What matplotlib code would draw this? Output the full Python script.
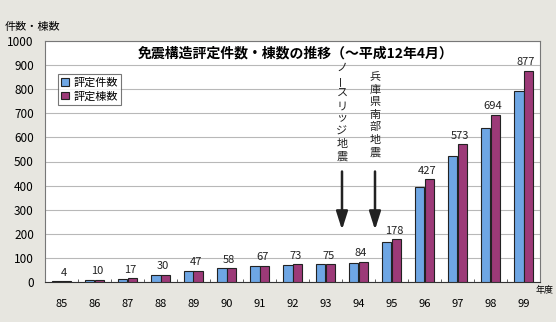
import numpy as np
import matplotlib.pyplot as plt

plt.rcParams['font.family'] = ['Noto Sans CJK JP', 'DejaVu Sans']

years = ["85", "86", "87", "88", "89", "90", "91", "92", "93", "94", "95", "96", "97", "98", "99"]
counts = [4, 9, 14, 29, 44, 57, 67, 71, 75, 79, 167, 393, 524, 638, 794]      # 評定件数
buildings = [4, 10, 17, 30, 47, 58, 67, 73, 75, 84, 178, 427, 573, 694, 877]  # 評定棟数
labels = ["4", "10", "17", "30", "47", "58", "67", "73", "75", "84", "178", "427", "573", "694", "877"]

quakes = ["ノースリッジ地震", "兵庫県南部地震"]
quake_pos = [8.5, 9.5]

fig = plt.figure(figsize=(5.56, 3.22), dpi=100, facecolor='#e7e6e0')
ax = fig.add_axes([45/556, 1 - 282/322, 495/556, 241/322])
ax.set_facecolor('white')

x = np.arange(len(years))
w = 0.28
ax.bar(x - w/2, counts, w, color='#6ea6e4', edgecolor='#222222', linewidth=0.8, label='評定件数', zorder=3)
ax.bar(x + w/2, buildings, w, color='#9c3a78', edgecolor='#222222', linewidth=0.8, label='評定棟数', zorder=3)

for xi, v, t in zip(x, buildings, labels):
    ax.text(xi + 0.08, v + 14, t, ha='center', va='bottom', fontsize=8, color='#222222')

ax.set_xlim(-0.5, len(years) - 0.5)
ax.set_ylim(0, 1000)
ax.set_yticks(range(0, 1001, 100))
ax.yaxis.grid(True, color='#b8b8b8', linewidth=0.8, zorder=0)
ax.set_xticks(x)
ax.set_xticklabels(years, fontsize=8)
ax.set_xticks(np.arange(-0.5, len(years)), minor=True)
ax.tick_params(axis='x', which='major', length=0, pad=12)
ax.tick_params(axis='x', which='minor', length=2, direction='in', color='#444444')
ax.tick_params(axis='y', length=0, labelsize=8.5, pad=8)
for s in ax.spines.values():
    s.set_color('#777777')
    s.set_linewidth(0.8)
ax.spines['bottom'].set_color('#333333')

ax.text(2.3, 950, '免震構造評定件数・棟数の推移（～平成12年4月）', ha='left', va='center',
        fontsize=10, fontweight='bold', fontstyle='italic')

leg = ax.legend(loc='upper left', bbox_to_anchor=(0.015, 0.885), fontsize=8,
                frameon=True, fancybox=False, edgecolor='#555555', handlelength=0.7,
                handleheight=0.7, handletextpad=0.4, borderpad=0.3, labelspacing=0.3)
leg.get_frame().set_linewidth(0.8)

# vertical annotations with arrows
tops = [890, 850]
for name, px, top in zip(quakes, quake_pos, tops):
    yy = top
    for ch in name:
        rot = 90 if ch == 'ー' else 0
        ax.text(px, yy, ch, ha='center', va='center', fontsize=8, rotation=rot, color='#222222')
        yy -= 56 if ch in 'ー' else 52
    ax.annotate('', xy=(px, 205), xytext=(px, 470),
                arrowprops=dict(arrowstyle='-|>,head_width=0.35,head_length=1.1',
                                color='#222222', lw=1.8))

fig.text(5/556, 1 - 27/322, '件数・棟数', fontsize=8, va='center', ha='left')
fig.text(536/556, 1 - 291/322, '年度', fontsize=6.5, va='center', ha='left')

fig.savefig('out.png', dpi=100, facecolor=fig.get_facecolor())
